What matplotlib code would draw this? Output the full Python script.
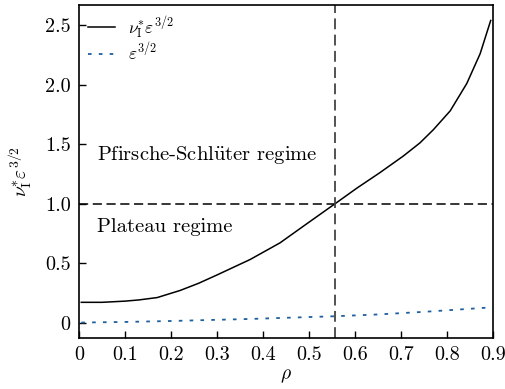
import matplotlib
matplotlib.use("Agg")
import matplotlib.pyplot as plt

# ===== Data =====
rho = [0.005, 0.05, 0.10, 0.13, 0.17, 0.22, 0.26, 0.30, 0.372, 0.437, 0.495,
       0.557, 0.604, 0.654, 0.705, 0.741, 0.770, 0.807, 0.843, 0.872, 0.895]
nu_eps = [0.17, 0.17, 0.18, 0.19, 0.21, 0.27, 0.33, 0.40, 0.53, 0.67, 0.83,
          1.00, 1.13, 1.26, 1.40, 1.51, 1.62, 1.78, 2.01, 2.26, 2.54]

rho_eps = [0.005, 0.1, 0.2, 0.3, 0.372, 0.45, 0.557, 0.65, 0.75, 0.89]
eps32 = [0.0, 0.005, 0.013, 0.023, 0.030, 0.040, 0.053, 0.068, 0.090, 0.126]

rho_crit = 0.557
y_ticks = [0, 0.5, 1.0, 1.5, 2.0, 2.5]
y_tick_labels = ["0", "0.5", "1.0", "1.5", "2.0", "2.5"]
x_ticks = [0, 0.1, 0.2, 0.3, 0.4, 0.5, 0.6, 0.7, 0.8, 0.9]
x_tick_labels = ["0", "0.1", "0.2", "0.3", "0.4", "0.5", "0.6", "0.7", "0.8", "0.9"]

# ===== Style =====
plt.rcParams["font.family"] = "serif"
plt.rcParams["font.serif"] = ["cmr10"]
plt.rcParams["mathtext.fontset"] = "cm"
plt.rcParams["axes.formatter.use_mathtext"] = True
plt.rcParams["font.size"] = 14

fig = plt.figure(figsize=(5.06, 3.89), dpi=100)
ax = fig.add_axes([79 / 506, 51 / 389, 414 / 506, 333 / 389])

ax.plot(rho, nu_eps, color="black", lw=1.1, label=r"$\nu_{\rm I}^{*}\varepsilon^{3/2}$")
ax.plot(rho_eps, eps32, color="#1f5f9f", lw=1.3, linestyle=(0, (2, 4)),
        label=r"$\varepsilon^{3/2}$")

ax.axhline(1.0, color="black", lw=1.1, linestyle=(0, (6, 3)))
ax.axvline(rho_crit, color="#444444", lw=1.3, linestyle=(0, (6, 3)))

ax.text(0.039, 1.41, r"Pfirsche-Schl$\ddot{\mathrm{u}}$ter regime", va="center", ha="left",
        fontsize=14.8)
ax.text(0.039, 0.80, "Plateau regime", va="center", ha="left", fontsize=14.8)

ax.set_xlim(0, 0.9)
ax.set_ylim(-0.13, 2.67)
ax.set_xticks(x_ticks)
ax.set_xticklabels(x_tick_labels)
ax.set_yticks(y_ticks)
ax.set_yticklabels(y_tick_labels)
ax.tick_params(direction="in", length=5, width=1, labelsize=14.5, pad=6)
for s in ax.spines.values():
    s.set_linewidth(1.2)

ax.set_xlabel(r"$\rho$", fontsize=14, labelpad=2)
ax.set_ylabel(r"$\nu_{\rm I}^{*}\varepsilon^{3/2}$", fontsize=14, labelpad=8)

leg = ax.legend(loc="upper left", frameon=False, fontsize=12.5, handlelength=1.6,
                borderaxespad=0.2, borderpad=0.3, labelspacing=0.0, handletextpad=0.7)

fig.savefig("out.png", dpi=100)
